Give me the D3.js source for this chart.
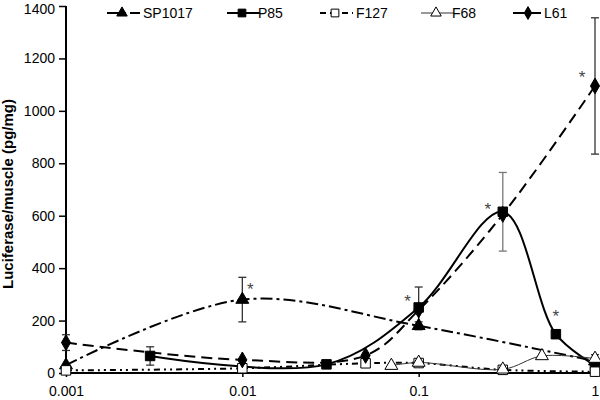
<!DOCTYPE html>
<html><head><meta charset="utf-8">
<script src="https://cdn.jsdelivr.net/npm/d3@7"></script>
<style>body{margin:0;background:#fff}svg{display:block;font-family:"Liberation Sans",Arial,sans-serif}</style>
</head><body><svg id="c" width="600" height="400"></svg>
<script>
// ---- data ----
const seriesNames = ["SP1017", "P85", "F127", "F68", "L61"];
const sp1017X = [0.001, 0.01, 0.1, 1];
const sp1017Y = [30, 280, 180, 45];
const sp1017Err = [0, 85, 15, 0];
const p85X = [0.003, 0.03, 0.1, 0.3, 0.6, 1];
const p85Y = [65, 33, 250, 615, 148, 30];
const p85Err = [35, 0, 78, 150, 15, 10];
const f127X = [0.001, 0.01, 0.05, 0.1, 0.3, 1];
const f127Y = [10, 18, 37, 38, 12, 5];
const f127Err = [0, 0, 0, 0, 0, 0];
const f68X = [0.07, 0.1, 0.3, 0.5, 1];
const f68Y = [28, 40, 14, 65, 55];
const f68Err = [0, 0, 0, 0, 15];
const l61X = [0.001, 0.01, 0.05, 0.1, 0.3, 1];
const l61Y = [116, 50, 67, 240, 605, 1095];
const l61Err = [30, 0, 0, 0, 0, 260];
const starX = [0.01, 0.1, 0.3, 0.6, 1];
const starY = [280, 250, 615, 148, 1095];
const xTicks = [0.001, 0.01, 0.1, 1];
const xTickLabels = ["0.001", "0.01", "0.1", "1"];
const yTicks = [0, 200, 400, 600, 800, 1000, 1200, 1400];
const yLabel = "Luciferase/muscle (pg/mg)";

// ---- chart ----
const svg = d3.select("#c");
const x = d3.scaleLog().domain([0.001, 1]).range([66, 595]);
const y = d3.scaleLinear().domain([0, 1400]).range([373, 6]);

const styles = {
  SP1017: {dash: "12,4,3,4", w: 2, color: "#000", marker: "triangle", fill: "#000"},
  P85: {dash: null, w: 2, color: "#000", marker: "square", fill: "#000"},
  F127: {dash: "6,4,2,4,2,4", w: 2, color: "#000", marker: "square", fill: "#fff"},
  F68: {dash: null, w: 1, color: "#333", marker: "triangle", fill: "#fff"},
  L61: {dash: "11,6", w: 2, color: "#000", marker: "diamond", fill: "#000"}
};
const series = [
  {name: "SP1017", xs: sp1017X, ys: sp1017Y, es: sp1017Err},
  {name: "P85", xs: p85X, ys: p85Y, es: p85Err},
  {name: "F127", xs: f127X, ys: f127Y, es: f127Err},
  {name: "F68", xs: f68X, ys: f68Y, es: f68Err},
  {name: "L61", xs: l61X, ys: l61Y, es: l61Err}
];

function symbolPath(type, size) {
  if (type === "square") return d3.symbol(d3.symbolSquare, size)();
  if (type === "triangle") return d3.symbol(d3.symbolTriangle, size * 0.8)();
  return d3.symbol(d3.symbolDiamond, size * 0.8)();
}

// axes
const yAxis = d3.axisLeft(y).tickValues(yTicks).tickSize(7).tickPadding(4).tickFormat(d3.format("d"));
const gy = svg.append("g").attr("transform", "translate(66,0)").call(yAxis);
const xAxis = d3.axisBottom(x).tickValues(xTicks).tickSize(4).tickPadding(9)
  .tickFormat((d, i) => xTickLabels[i]);
const gx = svg.append("g").attr("transform", "translate(0,373)").call(xAxis);
[gx, gy].forEach(g => {
  g.select(".domain").attr("stroke", "#000").attr("stroke-width", 2);
  g.selectAll(".tick line").attr("stroke", "#000").attr("stroke-width", 1.5);
  g.selectAll("text").attr("font-size", 14).attr("fill", "#000")
    .attr("font-family", '"Liberation Sans",Arial,sans-serif');
});
gy.selectAll(".tick text").filter(d => d === 1400).attr("dy", "0.5em");
gy.select(".domain").attr("d", "M0,373V6");
gx.select(".domain").attr("d", "M66,0H595");

svg.append("text").attr("transform", "translate(13,194) rotate(-90)")
  .attr("text-anchor", "middle").attr("font-size", 15).attr("font-weight", "bold").text(yLabel);

// lines
const line = d3.line().x(d => x(d[0])).y(d => y(d[1])).curve(d3.curveCatmullRom.alpha(0.5));
series.forEach(s => {
  const st = styles[s.name];
  const pts = s.xs.map((v, i) => [v, s.ys[i]]);
  svg.append("path").attr("d", line(pts)).attr("fill", "none").attr("stroke", st.color)
    .attr("stroke-width", st.w).attr("stroke-dasharray", st.dash);
});

// error bars
series.forEach(s => {
  s.xs.forEach((v, i) => {
    const e = s.es[i];
    if (!e) return;
    const cx = x(v), y1 = y(s.ys[i] + e), y2 = y(Math.max(0, s.ys[i] - e));
    const g = svg.append("g").attr("stroke", s.name === "P85" && v === 0.3 ? "#777" : "#333").attr("stroke-width", 1.3);
    g.append("line").attr("x1", cx).attr("x2", cx).attr("y1", y1).attr("y2", y2);
    g.append("line").attr("x1", cx - 4).attr("x2", cx + 4).attr("y1", y1).attr("y2", y1);
    g.append("line").attr("x1", cx - 4).attr("x2", cx + 4).attr("y1", y2).attr("y2", y2);
  });
});

// markers
series.forEach(s => {
  const st = styles[s.name];
  s.xs.forEach((v, i) => {
    svg.append("path").attr("d", symbolPath(st.marker, 90))
      .attr("transform", `translate(${x(v)},${y(s.ys[i])})`)
      .attr("fill", st.fill).attr("stroke", "#000").attr("stroke-width", 1);
  });
});

// significance stars
const starDx = [8, -11, -15, 0, -13];
const starDy = [-5, 0, 3, -12, -3];
starX.forEach((v, i) => {
  svg.append("text").attr("x", x(v) + starDx[i]).attr("y", y(starY[i]) + starDy[i])
    .attr("text-anchor", "middle").attr("font-size", 17).attr("fill", "#444").text("*");
});

// legend
const legX = [122, 242, 335, 436, 528];
seriesNames.forEach((n, i) => {
  const st = styles[n];
  const g = svg.append("g").attr("transform", `translate(${legX[i]},13)`);
  g.append("line").attr("x1", -15).attr("x2", 18).attr("y1", 0).attr("y2", 0)
    .attr("stroke", st.color).attr("stroke-width", st.w).attr("stroke-dasharray", st.dash);
  g.append("path").attr("d", symbolPath(st.marker, 60)).attr("fill", st.fill).attr("stroke", "#000");
  g.append("text").attr("x", n.length > 3 ? 21 : 16).attr("y", 5).attr("font-size", 14).text(n);
});
</script></body></html>
